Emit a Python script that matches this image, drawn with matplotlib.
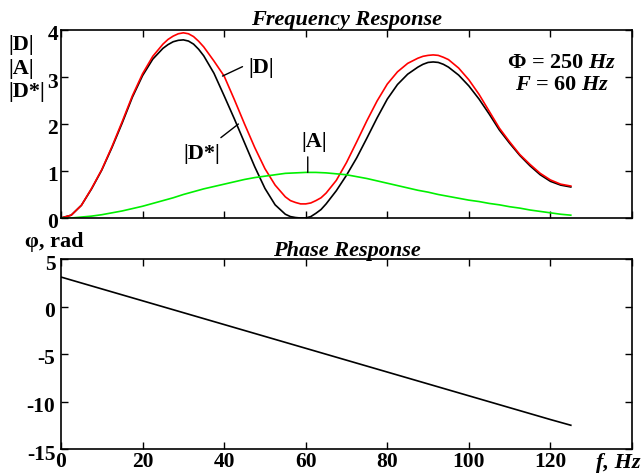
import matplotlib
matplotlib.use("Agg")
import matplotlib.pyplot as plt
from matplotlib.transforms import ScaledTranslation

# ---------------- data ----------------
freq = [0, 2.5, 5, 7.5, 10, 12.5, 15, 17.5, 20, 22.5, 25, 26.25, 27.5, 28.75,
        30, 31.25, 32.5, 33.75, 35, 37.5, 40, 42.5, 45, 47.5, 50, 52.5, 55,
        56.25, 57.5, 58.75, 60, 61.25, 62.5, 63.75, 65, 67.5, 70, 72.5, 75,
        77.5, 80, 82.5, 85, 87.5, 88.75, 90, 91.25, 92.5, 93.75, 95, 97.5,
        100, 102.5, 105, 107.5, 110, 112.5, 115, 117.5, 120, 122.5, 125]

d_star = [0.00, 0.06, 0.27, 0.62, 1.02, 1.50, 2.02, 2.57, 3.03, 3.38, 3.61,
          3.69, 3.75, 3.78, 3.79, 3.765, 3.70, 3.59, 3.45, 3.08, 2.60, 2.11,
          1.60, 1.09, 0.63, 0.28, 0.08, 0.03, 0.01, 0.00, 0.00, 0.03, 0.10,
          0.18, 0.30, 0.58, 0.91, 1.28, 1.70, 2.13, 2.53, 2.84, 3.06, 3.21,
          3.27, 3.31, 3.32, 3.31, 3.27, 3.21, 3.04, 2.81, 2.53, 2.21, 1.87,
          1.59, 1.33, 1.11, 0.92, 0.78, 0.70, 0.66]

d_abs = [0.00, 0.06, 0.27, 0.63, 1.03, 1.52, 2.05, 2.60, 3.07, 3.44, 3.70,
         3.80, 3.87, 3.92, 3.94, 3.92, 3.86, 3.76, 3.64, 3.34, 3.02, 2.52,
         2.00, 1.50, 1.05, 0.70, 0.45, 0.37, 0.33, 0.30, 0.30, 0.32, 0.37,
         0.43, 0.53, 0.80, 1.18, 1.62, 2.07, 2.49, 2.85, 3.11, 3.29, 3.40,
         3.44, 3.46, 3.47, 3.46, 3.42, 3.37, 3.19, 2.94, 2.63, 2.27, 1.91,
         1.62, 1.35, 1.14, 0.95, 0.81, 0.72, 0.68]

a_abs = [0.00, 0.00, 0.02, 0.04, 0.07, 0.11, 0.15, 0.20, 0.25, 0.31, 0.37,
         0.40, 0.43, 0.465, 0.50, 0.53, 0.56, 0.59, 0.62, 0.67, 0.72, 0.77,
         0.82, 0.86, 0.89, 0.92, 0.95, 0.955, 0.96, 0.965, 0.97, 0.97, 0.97,
         0.965, 0.96, 0.94, 0.92, 0.88, 0.84, 0.79, 0.74, 0.69, 0.64, 0.59,
         0.57, 0.55, 0.525, 0.50, 0.48, 0.46, 0.42, 0.38, 0.35, 0.31, 0.28,
         0.24, 0.21, 0.17, 0.14, 0.11, 0.08, 0.06]

phase_f = [0, 20, 40, 60, 80, 100, 120, 125]
phase = [3.1, 0.6, -1.9, -4.4, -6.9, -9.4, -11.9, -12.5]

x_ticks = [0, 20, 40, 60, 80, 100, 120, 140]
x_ticklabels = ["0", "20", "40", "60", "80", "100", "120", ""]
top_yticks = [0, 1, 2, 3, 4]
bot_yticks = [-15, -10, -5, 0, 5]

# ---------------- style ----------------
plt.rcParams["font.family"] = ["Liberation Serif", "DejaVu Serif"]
plt.rcParams["font.weight"] = "bold"
plt.rcParams["mathtext.fontset"] = "custom"
plt.rcParams["mathtext.rm"] = "Liberation Serif:bold"
plt.rcParams["mathtext.it"] = "Liberation Serif:bold:italic"
plt.rcParams["axes.linewidth"] = 1.2
plt.rcParams["axes.unicode_minus"] = False

TICK_FS = 15.5
LBL_FS = 16

fig = plt.figure(figsize=(6.44, 4.76), dpi=100)
ax1 = fig.add_axes([61 / 644, 1 - 218 / 476, 571 / 644, 188 / 476])
ax2 = fig.add_axes([61 / 644, 1 - 449 / 476, 571 / 644, 190 / 476])

for ax in (ax1, ax2):
    ax.set_xlim(0, 140)
    ax.set_xticks(x_ticks)
    ax.tick_params(direction="in", length=5, width=1.0, top=True, right=True,
                   labelsize=TICK_FS, pad=2)
ax2.tick_params(axis="y", pad=4)

# top: frequency response
ax1.plot(freq, d_star, color="black", lw=1.2)
ax1.plot(freq, d_abs, color="#ff0000", lw=1.2)
ax1.plot(freq, a_abs, color="#00f000", lw=1.2)
ax1.set_ylim(0, 4)
ax1.set_yticks(top_yticks)
ax1.set_xticklabels([])
ax1.set_title("Frequency Response", fontsize=LBL_FS, fontstyle="italic",
              fontweight="bold", pad=3)

# annotations (label text + leader line)
lead = dict(arrowstyle="-", color="black", lw=1.0, shrinkA=0, shrinkB=0)
ax1.annotate("", xy=(39.6, 3.02), xytext=(44.5, 3.22), arrowprops=lead)
ax1.text(49.2, 3.19, "|D|", fontsize=LBL_FS, ha="center", va="center")
ax1.annotate("", xy=(43.5, 2.0), xytext=(39.2, 1.71), arrowprops=lead)
ax1.text(34.6, 1.36, "|D*|", fontsize=LBL_FS, ha="center", va="center")
ax1.annotate("", xy=(60.5, 0.97), xytext=(60.5, 1.30), arrowprops=lead)
ax1.text(62.2, 1.62, "|A|", fontsize=LBL_FS, ha="center", va="center")

ax1.text(0.876, 0.824, "Φ = 250 $\\mathit{Hz}$", transform=ax1.transAxes,
         ha="center", va="center", fontsize=LBL_FS)
ax1.text(0.877, 0.707, "$\\mathit{F}$ = 60 $\\mathit{Hz}$", transform=ax1.transAxes,
         ha="center", va="center", fontsize=LBL_FS)

# bottom: phase response
ax2.plot(phase_f, phase, color="black", lw=1.2)
ax2.set_ylim(-15, 5)
ax2.set_yticks(bot_yticks)
ax2.set_xticklabels(x_ticklabels)
ax2.set_title("Phase Response", fontsize=LBL_FS, fontstyle="italic",
              fontweight="bold", pad=2)

# y tick labels sit slightly below their ticks in the reference
shift = ScaledTranslation(0, -3 / 100, fig.dpi_scale_trans)
for ax in (ax1, ax2):
    for lbl in ax.get_yticklabels():
        lbl.set_transform(lbl.get_transform() + shift)

# axis labels as free text
fig.text(8 / 644, 1 - 35 / 476, "|D|\n|A|\n|D*|", ha="left", va="top",
         fontsize=LBL_FS, linespacing=1.25)
fig.text(25 / 644, 1 - 247 / 476, "φ, rad", ha="left", va="baseline",
         fontsize=LBL_FS)
fig.text(618 / 644, 1 - 463 / 476, "f, Hz", ha="center", va="center",
         fontsize=LBL_FS, fontstyle="italic")

fig.savefig("out.png", dpi=100)
